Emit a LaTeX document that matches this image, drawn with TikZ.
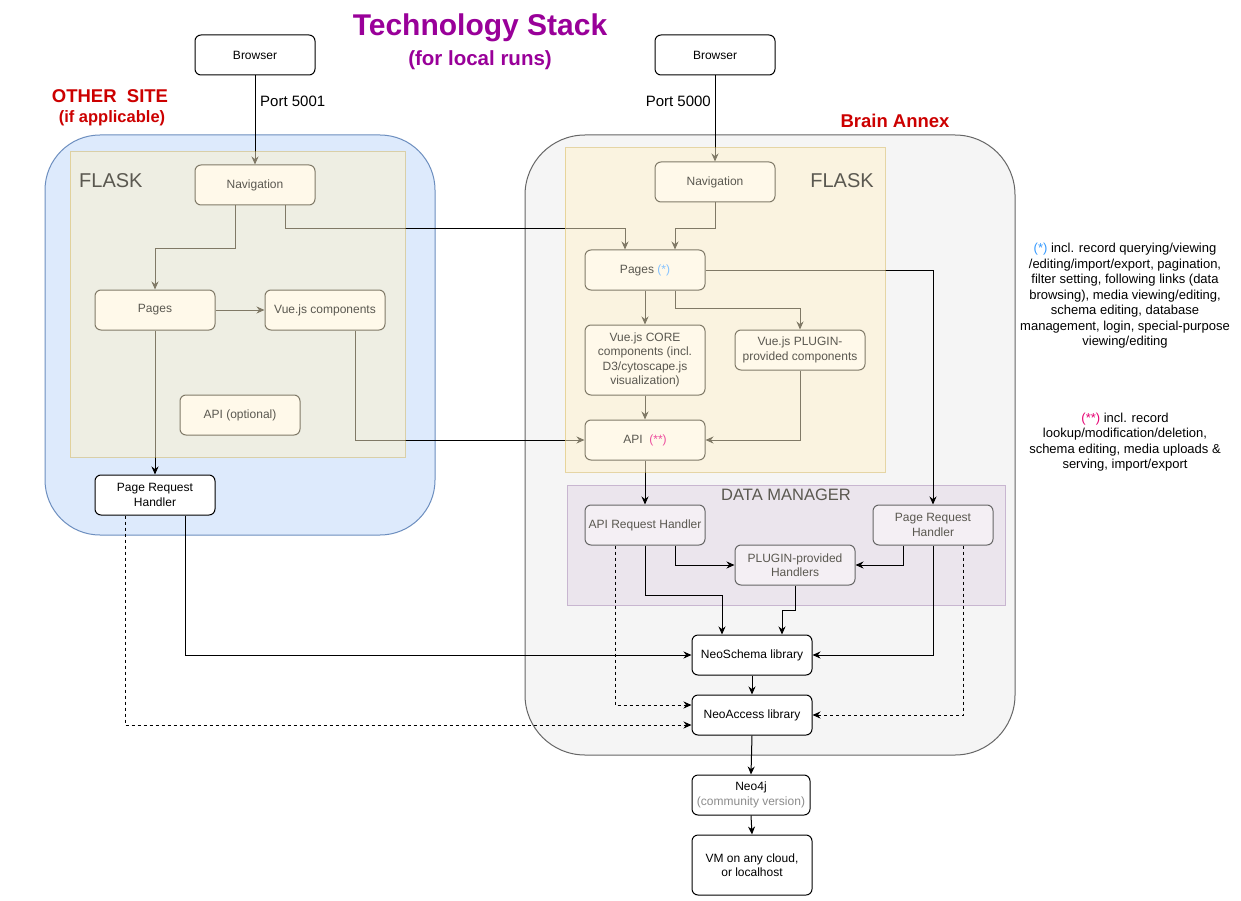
\documentclass[tikz,border=0pt]{standalone}
\usepackage{fontspec}
\setmainfont{Liberation Sans}
\usetikzlibrary{calc,positioning,backgrounds,arrows.meta}
\definecolor{titlePurple}{RGB}{153,0,153}
\definecolor{siteRed}{RGB}{204,0,0}
\definecolor{blueFill}{RGB}{221,234,252}
\definecolor{blueLine}{RGB}{108,142,191}
\definecolor{greyFill}{RGB}{245,245,245}
\definecolor{greyLine}{RGB}{102,102,102}
\definecolor{flaskFill}{RGB}{255,242,204}
\definecolor{flaskLine}{RGB}{214,182,86}
\definecolor{boxFill}{RGB}{255,249,234}
\definecolor{boxLine}{RGB}{128,122,104}
\definecolor{boxText}{RGB}{90,88,80}
\definecolor{dmFill}{RGB}{235,229,237}
\definecolor{dmLine}{RGB}{200,182,208}
\definecolor{dmBox}{RGB}{244,239,244}
\definecolor{starBlue}{RGB}{51,153,255}
\definecolor{starPink}{RGB}{230,0,115}
\tikzset{
  baseBox/.style={rectangle,rounded corners=6pt,minimum width=120pt,minimum height=40pt,inner sep=2pt,align=center,line width=1pt,font=\fontsize{12}{14.4}\selectfont},
  plainBox/.style={baseBox,draw=black,fill=white,text=black},
  flaskBox/.style={baseBox,draw=boxLine,fill=boxFill,text=boxText},
  dmBoxNode/.style={baseBox,draw=greyLine,fill=dmBox,text=boxText},
  areaLabel/.style={text=boxText,inner sep=0pt},
  conn/.style={draw=black,line width=1pt,-{Stealth[length=8pt,width=7pt]}},
  dashConn/.style={conn,dash pattern=on 3pt off 3pt},
  noteText/.style={align=center,font=\fontsize{13}{15.5}\selectfont,inner sep=0pt},
  flaskArea/.style={fill=flaskFill,fill opacity=0.5,draw=flaskLine,draw opacity=0.5,line width=1pt},
}

\begin{document}
\begin{tikzpicture}[x=1pt,y=-1pt]
  \useasboundingbox (0,0) rectangle (1241,901);

  % headings
  \node[text=titlePurple,font=\bfseries\fontsize{30}{36}\selectfont] at (480,28) (title) {Technology Stack};
  \node[text=titlePurple,font=\bfseries\fontsize{20.5}{24}\selectfont] at (480,60) (subtitle) {(for local runs)};
  \node[text=siteRed,font=\bfseries\fontsize{18.5}{22}\selectfont] at (110,96) (otherSite) {OTHER\ \ SITE};
  \node[text=siteRed,font=\bfseries\fontsize{16.5}{20}\selectfont] at (112,118) (otherSiteNote) {(if applicable)};
  \node[text=siteRed,font=\bfseries\fontsize{18.5}{22}\selectfont] at (895,121) (brainAnnex) {Brain Annex};

  % other site
  \node[plainBox] at (255,55) (browserL) {Browser};
  \node[anchor=west,font=\fontsize{15}{18}\selectfont,inner sep=0pt] at (260,101) (portL) {Port 5001};
  \node[areaLabel,anchor=west,font=\fontsize{20}{24}\selectfont] at (79,181) (flaskL) {FLASK};
  \node[flaskBox] at (255,185) (navL) {Navigation};
  \node[flaskBox] at (155,310) (pagesL) {Pages};
  \node[flaskBox] at (325,310) (vueL) {Vue.js components};
  \node[flaskBox] at (240,415) (apiOpt) {API (optional)};
  \node[plainBox] at (155,495) (prhL) {Page Request\\Handler};

  % brain annex
  \node[plainBox] at (715,55) (browserR) {Browser};
  \node[anchor=east,font=\fontsize{15}{18}\selectfont,inner sep=0pt] at (711,101) (portR) {Port 5000};
  \node[areaLabel,font=\fontsize{20}{24}\selectfont] at (842,181) (flaskR) {FLASK};
  \node[flaskBox] at (715,182) (navR) {Navigation};
  \node[flaskBox] at (645,270) (pagesR) {Pages {\color{starBlue!60}(*)}};
  \node[flaskBox,minimum height=70pt] at (645,360) (coreR) {Vue.js CORE\\components (incl.\\D3/cytoscape.js\\visualization)};
  \node[flaskBox,minimum width=130pt] at (800,350) (pluginR) {Vue.js PLUGIN-\\provided components};
  \node[flaskBox] at (645,440) (apiR) {API\ \ {\color{starPink!70}(**)}};
  \node[areaLabel,font=\fontsize{16.5}{20}\selectfont] at (786,495) (dataManager) {DATA MANAGER};
  \node[dmBoxNode] at (645,525) (arhR) {API Request Handler};
  \node[dmBoxNode] at (933,525) (prhR) {Page Request\\Handler};
  \node[dmBoxNode] at (795,565) (plugH) {PLUGIN-provided\\Handlers};
  \node[plainBox] at (752,655) (neoSchema) {NeoSchema library};
  \node[plainBox] at (752,715) (neoAccess) {NeoAccess library};
  \node[plainBox,minimum width=118pt] at (751,795) (neo4j) {Neo4j\\{\color{black!45}(community version)}};
  \node[plainBox,minimum height=60pt] at (752,865) (vm) {VM on any cloud,\\or localhost};

  % notes
  \node[noteText] at (1125,296) (noteOne) {{\color{starBlue}(*)} incl. record querying/viewing\\/editing/import/export, pagination,\\filter setting, following links (data\\browsing), media viewing/editing,\\schema editing, database\\management, login, special-purpose\\viewing/editing};
  \node[noteText] at (1125,442) (noteTwo) {{\color{starPink}(**)} incl. record\\lookup/modification/deletion,\\schema editing, media uploads \&\\serving, import/export};

  \begin{pgfonlayer}{background}
    \fill[white] (0,0) rectangle (1241,901);
    \draw[fill=blueFill,draw=blueLine,line width=1pt,rounded corners=55pt] (45,135) rectangle (435,535);
    \draw[fill=greyFill,draw=greyLine,line width=1pt,rounded corners=60pt] (525,135) rectangle (1015,755);
    \draw[fill=dmFill,draw=dmLine,line width=1pt] (567,485) rectangle (1005,605);

    % connectors
    \draw[conn] (browserL.south) -- (navL.north);
    \draw[conn] ($(navL.south)+(-20,0)$) -- ++(0,43) -| (pagesL.north);
    \draw[conn] (pagesL.east) -- (vueL.west);
    \draw[conn] (pagesL.south) -- (prhL.north);
    \draw[conn] ($(navL.south)+(30,0)$) -- ++(0,23) -| ($(pagesR.north)+(-20,0)$);
    \draw[conn] ($(vueL.south)+(30,0)$) |- (apiR.west);
    \draw[conn] (browserR.south) -- (navR.north);
    \draw[conn] (navR.south) -- ++(0,26) -| ($(pagesR.north)+(30,0)$);
    \draw[conn] (pagesR.south) -- (coreR.north);
    \draw[conn] ($(pagesR.south)+(30,0)$) -- ++(0,18) -| (pluginR.north);
    \draw[conn] (pagesR.east) -| (prhR.north);
    \draw[conn] (coreR.south) -- (apiR.north);
    \draw[conn] (pluginR.south) |- (apiR.east);
    \draw[conn] (apiR.south) -- (arhR.north);
    \draw[conn] ($(arhR.south)+(30,0)$) |- (plugH.west);
    \draw[conn] ($(prhR.south)+(-30,0)$) |- (plugH.east);
    \draw[conn] (arhR.south) -- ++(0,50) -| ($(neoSchema.north)+(-30,0)$);
    \draw[conn] (plugH.south) -- ++(0,25) -| ($(neoSchema.north)+(30,0)$);
    \draw[conn] (prhR.south) |- (neoSchema.east);
    \draw[conn] ($(prhL.south)+(30,0)$) |- (neoSchema.west);
    \draw[conn] (neoSchema.south) -- (neoAccess.north);
    \draw[dashConn] ($(arhR.south)+(-30,0)$) |- ($(neoAccess.west)+(0,-10)$);
    \draw[dashConn] ($(prhR.south)+(30,0)$) |- (neoAccess.east);
    \draw[dashConn] ($(prhL.south)+(-30,0)$) |- ($(neoAccess.west)+(0,10)$);
    \draw[conn] (neoAccess.south) -- (neo4j.north);
    \draw[conn] (neo4j.south) -- (vm.north);

    % flask overlays
    \draw[flaskArea] (70,152) rectangle (405,457);
    \draw[flaskArea] (565,148) rectangle (885,472);
  \end{pgfonlayer}
\end{tikzpicture}
\end{document}
